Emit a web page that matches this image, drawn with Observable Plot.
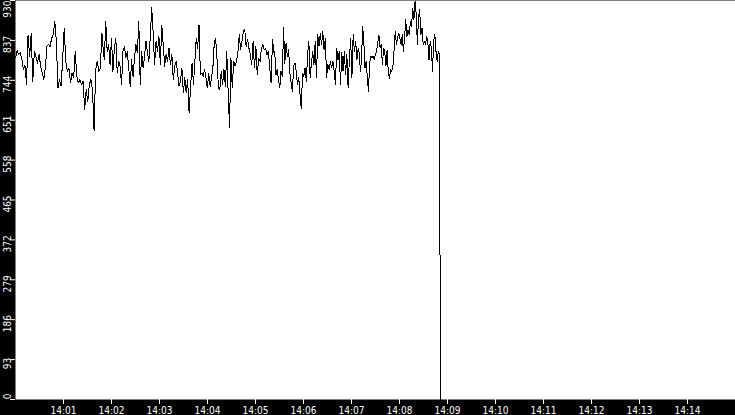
<!DOCTYPE html>
<html>
<head>
<meta charset="utf-8">
<script src="https://cdn.jsdelivr.net/npm/d3@7"></script>
<script src="https://cdn.jsdelivr.net/npm/@observablehq/plot@0.6"></script>
<style>
  html, body { margin: 0; padding: 0; background: #fff; }
  #chart svg { display: block; }
</style>
</head>
<body>
<div id="chart"></div>
<script>
// Readings of the series, split in five consecutive stretches of time
const seg1 = [796, 813, 804, 808, 794, 769, 780, 734, 850, 800, 854, 742, 811, 800, 784, 804, 777, 761, 746, 773, 823, 827, 823, 842, 850, 881, 835, 726, 746, 730, 792, 866, 788, 765, 773, 738, 761, 750, 811, 753, 738, 746, 734, 742, 676, 722, 695, 734, 746, 722, 627, 769, 788, 765, 773, 854, 808];
const seg2 = [792, 881, 811, 827, 780, 842, 765, 819, 842, 761, 788, 777, 734, 811, 823, 796, 811, 773, 730, 792, 753, 796, 827, 808, 881, 734, 811, 773, 800, 835, 811, 788, 846, 914, 854, 780, 835, 811, 846, 780, 873, 827, 777, 804, 788, 819, 780, 804, 746, 777, 788, 761, 730, 742, 773, 715, 750, 715, 746, 668];
const seg3 = [734, 784, 734, 788, 842, 819, 873, 757, 761, 753, 769, 750, 726, 761, 730, 750, 773, 831, 842, 792, 726, 722, 765, 734, 769, 730, 811, 718, 633, 796, 726, 788, 777, 788, 808, 850, 815, 835, 858, 862, 823, 839, 819, 804, 780, 835, 773, 823, 757, 796, 788, 819, 827, 815, 819, 804, 811, 773, 738, 839, 808];
const seg4 = [811, 757, 769, 746, 726, 765, 753, 866, 784, 831, 800, 815, 761, 738, 718, 777, 784, 765, 734, 750, 711, 678, 761, 753, 773, 742, 804, 835, 750, 784, 811, 780, 835, 750, 850, 823, 854, 827, 858, 815, 842, 750, 780, 769, 788, 773, 788, 765, 734, 819, 792, 811, 734, 808, 765, 811, 757, 804, 726, 792, 842, 750, 850, 811, 835, 792, 819, 804];
const seg5 = [765, 788, 870, 835, 773, 788, 753, 718, 784, 800, 796, 800, 792, 804, 811, 831, 850, 819, 827, 780, 819, 811, 777, 815, 765, 748, 769, 765, 777, 815, 858, 827, 842, 854, 842, 827, 850, 811, 842, 885, 846, 862, 850, 881, 870, 912, 885, 928, 897, 827, 893, 908, 850, 866, 827, 835, 827, 846, 831, 792, 835, 819, 765, 835, 850, 811, 788, 811, 804];
const segmentSpans = [
  ["14:00:00.000", "14:01:50.000"],
  ["14:01:51.000", "14:03:37.000"],
  ["14:03:39.000", "14:05:23.000"],
  ["14:05:24.000", "14:07:10.000"],
  ["14:07:11.000", "14:08:50.000"]
];
const dropValues = [402, 0];
const dropTimes = ["14:08:50.500", "14:08:51.300"];

const yTicks = [0, 93, 186, 279, 372, 465, 558, 651, 744, 837, 930];
const xTickLabels = ["14:01", "14:02", "14:03", "14:04", "14:05", "14:06", "14:07", "14:08", "14:09", "14:10", "14:11", "14:12", "14:13", "14:14"];
const xDomainLabels = ["14:00", "14:15"];

const toDate = s => new Date(`2020-01-01T${s.length === 5 ? s + ":00.000" : s}Z`);

const segments = [seg1, seg2, seg3, seg4, seg5];
const data = [];
segments.forEach((vals, k) => {
  const t0 = +toDate(segmentSpans[k][0]), t1 = +toDate(segmentSpans[k][1]);
  vals.forEach((v, i) => data.push({t: new Date(t0 + (t1 - t0) * i / (vals.length - 1)), v}));
});
dropValues.forEach((v, i) => data.push({t: toDate(dropTimes[i]), v}));

const font = "'DejaVu Sans Condensed', 'DejaVu Sans', sans-serif";
const yMax = yTicks[yTicks.length - 1];
const labelOpts = {
  y: d => d, text: d => String(d), frameAnchor: "left", rotate: -90,
  textAnchor: "middle", lineAnchor: "bottom", dx: -5, fill: "white",
  fontSize: 10, fontFamily: font
};

const chart = Plot.plot({
  width: 735,
  height: 415,
  marginLeft: 15,
  marginRight: 0,
  marginTop: 0,
  marginBottom: 16,
  style: {background: "black", color: "white", fontFamily: font, fontSize: "10px", fontStretch: "condensed", overflow: "hidden"},
  x: {type: "utc", domain: xDomainLabels.map(toDate), label: null},
  y: {domain: [0, yMax], label: null},
  marks: [
    Plot.frame({fill: "white", stroke: "none"}),
    Plot.line(data, {x: "t", y: "v", stroke: "black", strokeWidth: 1, shapeRendering: "crispEdges"}),
    Plot.axisX({ticks: xTickLabels.map(toDate), tickFormat: d3.utcFormat("%H:%M"), tickSize: 5, tickPadding: 2, stroke: "white", fill: "white", fontSize: 10, label: null}),
    Plot.axisY({ticks: yTicks, tickSize: 5, stroke: "white", fill: "none", label: null}),
    Plot.text(yTicks.filter(d => d > 0 && d < yMax), {...labelOpts, dy: 4}),
    Plot.text(yTicks.filter(d => d === yMax), {...labelOpts, textAnchor: "end", dy: 0}),
    Plot.text(yTicks.filter(d => d === 0), {...labelOpts, dy: -3})
  ]
});
document.getElementById("chart").append(chart);
</script>
</body>
</html>
